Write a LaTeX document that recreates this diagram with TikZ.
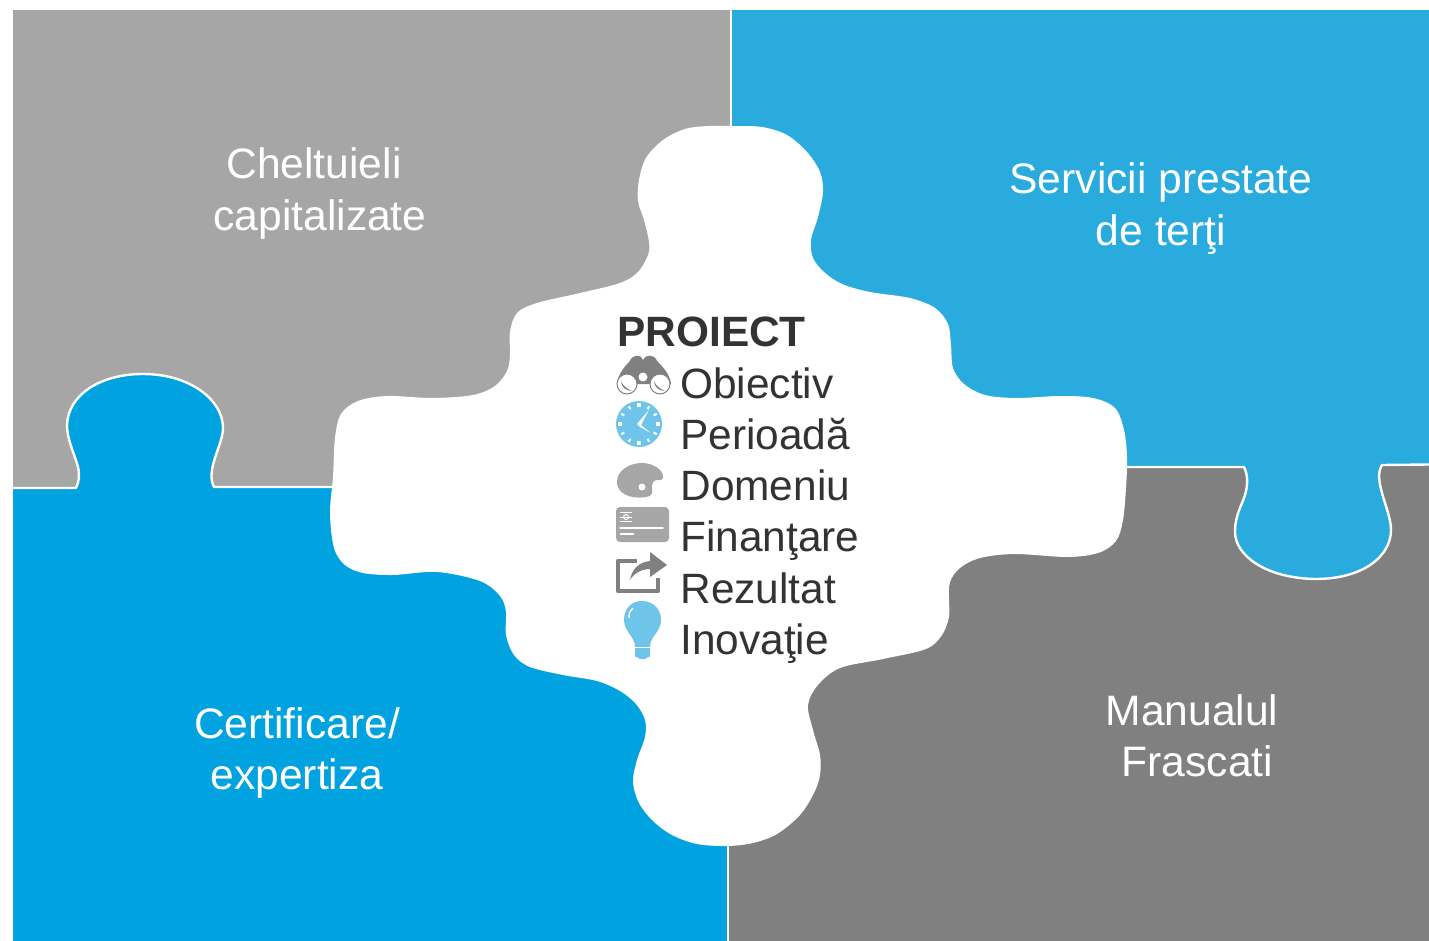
\documentclass[tikz,border=0pt]{standalone}
\usepackage{fontspec}
\setmainfont{Liberation Sans}
\definecolor{pgray}{HTML}{A6A6A6}
\definecolor{dgray}{HTML}{808080}
\definecolor{tblue}{HTML}{29ABDD}
\definecolor{bblue}{HTML}{00A2E0}
\definecolor{lblue}{HTML}{6EC5E9}
\definecolor{ink}{HTML}{333333}
\tikzset{
  pzl/.style={white,font=\fontsize{21.3}{26}\selectfont,anchor=base},
  itm/.style={ink,font=\fontsize{21.2}{26}\selectfont,anchor=base west,inner sep=0pt},
  seam/.style={draw=white,line width=1.2pt,line join=round},
  wl/.style={white,line width=0.9pt,line cap=round}
}
\begin{document}
\begin{tikzpicture}[x=0.5pt,y=-0.5pt]
\useasboundingbox (0,0) rectangle (1429,941);
\fill[white] (0,0) rectangle (1429,941);
\fill[pgray] (13,10) rectangle (730,489);
\fill[tblue] (732,10) rectangle (1429,467);
\fill[dgray] (729,465) rectangle (1429,941);
\fill[bblue] (13,488) rectangle (727,941);
% knob left
\def\knobL{(13,488) -- (76,488)
  .. controls (79,482) and (80,475) .. (78,467)
  .. controls (75,455) and (67,440) .. (67,425)
  .. controls (68,395) and (100,374) .. (143,374)
  .. controls (190,374) and (223,400) .. (223,428)
  .. controls (223,445) and (205,470) .. (214,487)
  -- (340,487)}
\fill[bblue] \knobL -- (340,500) -- (13,500) -- cycle;
\draw[seam] \knobL;
% knob right
\def\knobR{(1120,467) -- (1244,467)
  .. controls (1248,475) and (1248,485) .. (1245,495)
  .. controls (1242,505) and (1235,515) .. (1235,532)
  .. controls (1235,555) and (1265,578) .. (1315,579)
  .. controls (1365,579) and (1391,555) .. (1391,530)
  .. controls (1391,510) and (1372,480) .. (1382,465)
  -- (1429,464.5)}
\fill[tblue] \knobR -- (1429,440) -- (1120,440) -- cycle;
\draw[seam] \knobR;
% central white shape
\fill[white] plot[smooth cycle,tension=0.55] coordinates {
 (733,126) (762,127) (787,135) (807,152) (820,172) (823,192) (818,217) (811,240) (813,258)
 (824,272) (842,284) (870,292) (910,298) (935,308) (948,324) (951,345) (953,368) (964,384)
 (985,395) (1017,398) (1060,396) (1093,398) (1115,408) (1124,430) (1127,457) (1126,488)
 (1123,520) (1116,541) (1098,553) (1067,557) (1015,554) (980,558) (960,568) (950,582)
 (949,600) (949,617) (942,635) (926,649) (883,659) (840,668) (818,685) (808,705) (813,730)
 (820,755) (820,775) (814,793) (800,815) (777,834) (753,843) (727,846) (697,844) (672,835)
 (653,821) (639,803) (633,782) (637,760) (645,737) (645,720) (636,704) (620,691) (597,681)
 (563,675) (530,667) (514,655) (506,635) (506,612) (500,596) (480,581) (437,572)
 (393,575) (363,573) (345,565) (334,548) (330,513) (333,477) (335,438) (341,414) (358,401)
 (387,396) (433,398) (473,395) (495,386) (507,371) (510,355) (510,332) (517,313) (537,303)
 (580,293) (620,283) (638,272) (648,255) (649,242) (644,220) (638,201) (639,180) (646,158)
 (663,140) (685,129) (708,126)};
% labels
\node[pzl] (a1) at (314,179) {Cheltuieli};
\node[pzl] (a2) at (320,231) {capitalizate};
\node[pzl] (b1) at (1161,194) {Servicii prestate};
\node[pzl] (b2) at (1161,246) {de terţi};
\node[pzl] (c1) at (297,738) {Certificare/};
\node[pzl] (c2) at (297,789.5) {expertiza};
\node[pzl] (d1) at (1192,725.5) {Manualul};
\node[pzl] (d2) at (1197.5,776.5) {Frascati};
\node[itm,font=\fontsize{21.2}{26}\selectfont\bfseries] (t) at (617,346) {PROIECT};
\node[itm] (i1) at (680,398) {Obiectiv};
\node[itm] (i2) at (680,449) {Perioadă};
\node[itm] (i3) at (680,500) {Domeniu};
\node[itm] (i4) at (680,551) {Finanţare};
\node[itm] (i5) at (680,603) {Rezultat};
\node[itm] (i6) at (680,654) {Inovaţie};
% binoculars
\fill[dgray] (617,384) .. controls (618,374) and (625,366) .. (630,361)
  .. controls (632,354) and (642,354) .. (643,360)
  .. controls (645,354) and (655,354) .. (657,361)
  .. controls (662,366) and (670,374) .. (671,384) -- cycle;
\filldraw[fill=white,draw=dgray,line width=0.5pt] (627,384) circle (10);
\filldraw[fill=white,draw=dgray,line width=0.5pt] (660,384) circle (10);
\fill[white] (643,377) circle (4.5);
\fill[dgray] (621,381) .. controls (621,387) and (626,391) .. (632,391) .. controls (627,389) and (623,386) .. (621,381) -- cycle;
\fill[dgray] (654,381) .. controls (654,387) and (659,391) .. (665,391) .. controls (660,389) and (656,386) .. (654,381) -- cycle;
% clock
\fill[lblue] (639,424) circle (23);
\foreach \a in {0,90,180,270}{
  \fill[white,rotate around={\a:(639,424)}] (637,403) rectangle (641,407);
}
\foreach \a in {30,60,120,150,210,240,300,330}{
  \fill[white,rotate around={\a:(639,424)}] (638,403.5) rectangle (640,407);
}
\fill[white] (649,410) -- (641,425) -- (650,432.5) -- (640,427) -- (637,424) -- cycle;
% palette
\fill[pgray] (617,482) .. controls (617,470) and (630,463) .. (642,463)
  .. controls (653,463) and (664,470) .. (663,478)
  .. controls (662,482) and (656,478) .. (653,482)
  .. controls (650,488) and (655,492) .. (650,496)
  .. controls (638,500) and (617,497) .. (617,482) -- cycle;
\fill[white] (642,487) circle (3.5);
% card
\fill[pgray,rounded corners=2pt] (616,507) rectangle (669,542);
\draw[wl] (620,528) -- (663,528);
\draw[wl,line width=1pt,line cap=butt] (620,533.5) -- (634,533.5);
\draw[white,line width=0.5pt] (620,512) -- (632,512) (620,517) -- (632,517) (620,521.5) -- (632,521.5);
\draw[white,line width=0.5pt] (626,517) circle (2.5);
% share
\draw[dgray,line width=2.4pt,line join=round] (637,561) -- (618,561) -- (618,591) -- (658,591) -- (658,578);
\fill[dgray] (630,580) .. controls (632,568) and (640,562) .. (650,561) -- (650,552) -- (667,565) -- (650,577)
  -- (650,569) .. controls (642,569) and (634,573) .. (630,580) -- cycle;
% bulb
\fill[lblue] (635,647) .. controls (635,636) and (624,632) .. (624,620)
  .. controls (624,608) and (632,601) .. (642,601)
  .. controls (652,601) and (661,608) .. (661,620)
  .. controls (661,632) and (650,636) .. (650,647) -- cycle;
\fill[lblue] (635,648) rectangle (650,657);
\fill[lblue] (637,657) -- (648,657) .. controls (646,660) and (639,660) .. (637,657) -- cycle;
\draw[white,line width=0.3pt] (635,647.5) -- (650,647.5);
\draw[white,line width=0.7pt] (629,618) .. controls (629,613) and (630,610) .. (633,608);
\end{tikzpicture}
\end{document}
